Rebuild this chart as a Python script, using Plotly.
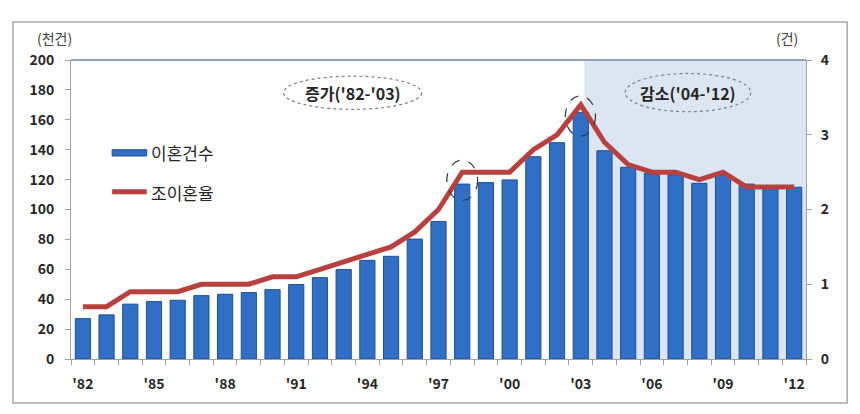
import plotly.graph_objects as go

# 연도별 이혼건수(천건)와 조이혼율(건)
years = list(range(1982, 2013))
divorces = [27, 29.5, 36.7, 38.4, 39.3, 42.4, 43.3, 44.4, 46.4, 49.8,
            54.4, 59.8, 66, 68.7, 80.2, 92, 117, 118, 119.8, 135.3,
            144.7, 165, 139.3, 128.2, 124.2, 123.3, 117.5, 123.3, 117, 115.3,
            114.9]
crude_rate = [0.7, 0.7, 0.9, 0.9, 0.9, 1.0, 1.0, 1.0, 1.1, 1.1,
              1.2, 1.3, 1.4, 1.5, 1.7, 2.0, 2.5, 2.5, 2.5, 2.8,
              3.0, 3.4, 2.9, 2.6, 2.5, 2.5, 2.4, 2.5, 2.3, 2.3,
              2.3]
tick_years = [1982, 1985, 1988, 1991, 1994, 1997, 2000, 2003, 2006, 2009, 2012]
tick_labels = ["'82", "'85", "'88", "'91", "'94", "'97", "'00", "'03", "'06", "'09", "'12"]

FONT = "Noto Sans CJK KR"
BAR_COLOR = "#2F6FC6"
LINE_COLOR = "#B8403E"

fig = go.Figure()
fig.add_trace(go.Bar(
    x=years, y=divorces, name="이혼건수", width=0.64, showlegend=False,
    marker=dict(color=BAR_COLOR, line=dict(color="#1D4F9A", width=1)),
))
fig.add_trace(go.Scatter(
    x=years, y=crude_rate, name="조이혼율", yaxis="y2", mode="lines", showlegend=False,
    line=dict(color=LINE_COLOR, width=5),
))

shapes = [
    # 감소 구간 배경
    dict(type="rect", xref="x", yref="paper", x0=2003.15, x1=2012.5, y0=0, y1=1,
         fillcolor="#DCE6F2", line=dict(width=0), layer="below"),
    # 상단 선
    dict(type="line", xref="paper", yref="paper", x0=0, x1=1, y0=1, y1=1,
         line=dict(color="#8FA3BC", width=2)),
    # 바깥 테두리
    dict(type="rect", xref="paper", yref="paper", x0=-0.079, x1=1.056, y0=-0.147, y1=1.127,
         line=dict(color="#A6A6A6", width=1.5)),
    # 구간 설명 타원
    dict(type="circle", xref="paper", yref="paper", x0=0.289, x1=0.477, y0=0.835, y1=0.946,
         line=dict(color="#7F7F7F", width=1.2, dash="dot")),
    dict(type="circle", xref="paper", yref="paper", x0=0.754, x1=0.925, y0=0.827, y1=0.955,
         line=dict(color="#7F7F7F", width=1.2, dash="dot")),
    # 정점 표시 타원
    dict(type="circle", xref="x", yref="y", x0=1997.35, x1=1998.65, y0=106, y1=133,
         line=dict(color="#333333", width=1.2, dash="dash")),
    dict(type="circle", xref="x", yref="y", x0=2002.35, x1=2003.62, y0=149, y1=176,
         line=dict(color="#333333", width=1.2, dash="dash")),
    # 범례 기호
    dict(type="rect", xref="paper", yref="paper", x0=0.056, x1=0.103, y0=0.679, y1=0.70,
         fillcolor=BAR_COLOR, line=dict(color="#1D4F9A", width=1)),
    dict(type="line", xref="paper", yref="paper", x0=0.056, x1=0.103, y0=0.559, y1=0.559,
         line=dict(color=LINE_COLOR, width=5)),
]


def label(text, x, y, size, color="#262626", xanchor="center"):
    return dict(text=text, xref="paper", yref="paper", x=x, y=y, showarrow=False,
                xanchor=xanchor, yanchor="middle",
                font=dict(family=FONT, size=size, color=color))


annotations = [
    label("(천건)", -0.022, 1.072, 14, "#404040"),
    label("(건)", 0.974, 1.072, 14, "#404040"),
    label("<b>증가('82-'03)</b>", 0.383, 0.89, 16),
    label("<b>감소('04-'12)</b>", 0.839, 0.891, 16),
    label("이혼건수", 0.106, 0.689, 17, xanchor="left"),
    label("조이혼율", 0.106, 0.556, 17, xanchor="left"),
]

tickfont = dict(family=FONT, size=14, color="#262626", weight="bold")

# 페이지 여백(8px)만큼 줄여서 배치
fig.update_layout(
    width=852, height=406,
    margin=dict(l=63, r=54, t=52, b=55),
    paper_bgcolor="white", plot_bgcolor="rgba(0,0,0,0)",
    xaxis=dict(range=[1981.5, 2012.5], tickvals=tick_years, ticktext=tick_labels,
               ticks="", tickfont=tickfont, ticklabelstandoff=12,
               showgrid=False, showline=True, linecolor="#A0A0A0", linewidth=1,
               minor=dict(tick0=1981.5, dtick=1, ticks="outside", ticklen=5,
                          tickcolor="#A0A0A0", showgrid=False)),
    yaxis=dict(range=[0, 200], dtick=20, ticks="outside", ticklen=5, tickcolor="#A0A0A0",
               ticklabelstandoff=8,
               showgrid=False, zeroline=False, showline=True, linecolor="#A0A0A0", linewidth=1,
               tickfont=tickfont),
    yaxis2=dict(range=[0, 4], dtick=1, overlaying="y", side="right", ticks="outside",
                ticklen=5, tickcolor="#A0A0A0", ticklabelstandoff=6,
                showgrid=False, zeroline=False,
                showline=True, linecolor="#A0A0A0", linewidth=1, tickfont=tickfont),
    shapes=shapes,
    annotations=annotations,
)

fig.write_html("out.html")
